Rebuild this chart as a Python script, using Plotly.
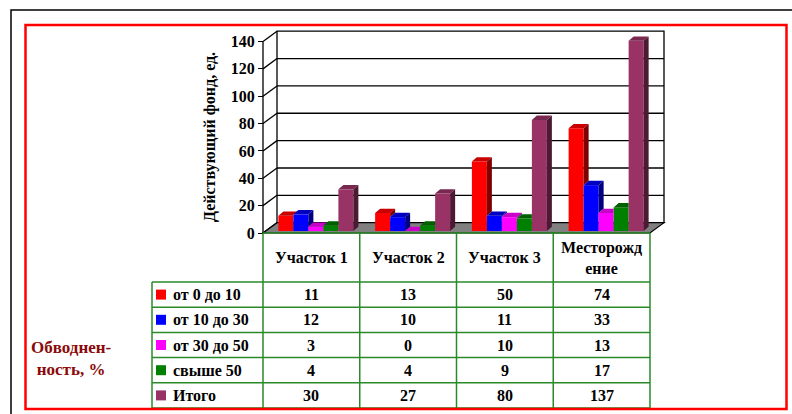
import plotly.graph_objects as go

# ---- data ----
categories = ["Участок 1", "Участок 2", "Участок 3", "Месторождение"]
column_headers = ["Участок 1", "Участок 2", "Участок 3", "Месторожд<br>ение"]
series_names = ["от 0 до 10", "от 10 до 30", "от 30 до 50", "свыше 50", "Итого"]
wells_0_10 = [11, 13, 50, 74]
wells_10_30 = [12, 10, 11, 33]
wells_30_50 = [3, 0, 10, 13]
wells_over_50 = [4, 4, 9, 17]
wells_total = [30, 27, 80, 137]
y_tick_values = [0, 20, 40, 60, 80, 100, 120, 140]

series_values = [wells_0_10, wells_10_30, wells_30_50, wells_over_50, wells_total]

front_colors = ["#FF0000", "#0000FF", "#FF00FF", "#008000", "#993366"]
top_colors = ["#C80000", "#0000C0", "#C800C8", "#006000", "#7A2850"]
side_colors = ["#800000", "#000080", "#800080", "#003800", "#4D1A33"]

FONT = "Liberation Serif"
GREEN = "#2A8A2A"
DARK_RED = "#8B0A0A"

# ---- geometry (pixels) ----
W, H = 792, 414
PL, PR, PT, PB = 255, 680, 25, 236          # plot area
X0, CW = 263.0, 96.75                      # pixel of x=-0.5, pixels per category
Y0, SY = 233.0, 191.5 / 140                # front plane: pixel of y=0, pixels per unit
BY0, BSY = 231.0, 1.389                    # bar plane (slightly behind the front)

x_range = [-0.5 - (X0 - PL) / CW, -0.5 + (PR - X0) / CW]
y_range = [(Y0 - PB) / SY, (Y0 - PT) / SY]
y2_range = [(BY0 - PB) / BSY, (BY0 - PT) / BSY]

DX, DY = 14 / CW, 10.3 / SY                # depth of the chart box
BW = 15 / CW                               # bar width
BDX, BDY = 5 / CW, 4.3 / BSY               # depth of each bar
SHIFT = 4.5 / CW
n_series = len(series_values)
n_cat = len(categories)
group_start = -n_series * BW / 2 + SHIFT
x_lo, x_hi = -0.5, n_cat - 0.5
y_top = y_tick_values[-1]


def pxx(p):
    return (p - PL) / (PR - PL)


def pxy(p):
    return (PB - p) / (PB - PT)


fig = go.Figure()

# front faces of the bars
for k, (name, vals) in enumerate(zip(series_names, series_values)):
    fig.add_trace(go.Bar(
        x=list(range(n_cat)), y=vals, width=BW, offset=group_start + k * BW,
        yaxis="y2",
        marker=dict(color=front_colors[k], line=dict(width=0)),
        name=name, showlegend=False, hoverinfo="skip",
    ))

# top and side faces of the bars (hidden parts cut away)
for k, vals in enumerate(series_values):
    tx, ty, sx, sy = [], [], [], []
    for i in range(n_cat):
        left = i + group_start + k * BW
        right = left + BW
        v = vals[i]
        vn = series_values[k + 1][i] if k + 1 < n_series else 0
        if vn <= v:
            pts = [(left, v), (right, v), (right + BDX, v + BDY), (left + BDX, v + BDY)]
        elif vn >= v + BDY:
            pts = [(left, v), (right, v), (right, v + BDY), (left + BDX, v + BDY)]
        else:
            pts = [(left, v), (right, v), (right, vn),
                   (right + BDX * (vn - v) / BDY, vn),
                   (right + BDX, v + BDY), (left + BDX, v + BDY)]
        for a, b in pts + [pts[0]]:
            tx.append(a)
            ty.append(b)
        tx.append(None)
        ty.append(None)
        if v > vn:
            spts = [(right, vn), (right, v), (right + BDX, v + BDY), (right + BDX, vn + BDY)]
            for a, b in spts + [spts[0]]:
                sx.append(a)
                sy.append(b)
            sx.append(None)
            sy.append(None)
    fig.add_trace(go.Scatter(x=tx, y=ty, yaxis="y2", mode="lines", fill="toself",
                             fillcolor=top_colors[k], line=dict(width=0),
                             showlegend=False, hoverinfo="skip"))
    if sx:
        fig.add_trace(go.Scatter(x=sx, y=sy, yaxis="y2", mode="lines", fill="toself",
                                 fillcolor=side_colors[k], line=dict(width=0),
                                 showlegend=False, hoverinfo="skip"))

shapes = []
# back wall
shapes.append(dict(type="rect", xref="x", yref="y", layer="below",
                   x0=x_lo + DX, x1=x_hi + DX, y0=DY, y1=y_top + DY,
                   fillcolor="white", line=dict(color="black", width=1.3)))
# back wall gridlines
for t in y_tick_values[1:-1]:
    shapes.append(dict(type="line", xref="x", yref="y", layer="below",
                       x0=x_lo + DX, x1=x_hi + DX, y0=t + DY, y1=t + DY,
                       line=dict(color="black", width=1.3)))
# side wall lines
for t in y_tick_values:
    shapes.append(dict(type="line", xref="x", yref="y", layer="below",
                       x0=x_lo, x1=x_lo + DX, y0=t, y1=t + DY,
                       line=dict(color="black", width=1.3)))
shapes.append(dict(type="line", xref="x", yref="y", layer="below",
                   x0=x_lo, x1=x_lo, y0=0, y1=y_top,
                   line=dict(color="black", width=1.3)))
# floor
shapes.append(dict(type="path", xref="x", yref="y", layer="below",
                   path=f"M {x_lo},0 L {x_hi},0 L {x_hi + DX},{DY} L {x_lo + DX},{DY} Z",
                   fillcolor="#808080", line=dict(color="black", width=1.2)))

# ---- data table ----
col_px = [X0 + i * CW for i in range(n_cat + 1)]
legend_left = 152
header_top, header_bottom = 233, 282
row_px = [282 + j * 25.2 for j in range(n_series + 1)]

shapes.append(dict(type="line", xref="paper", yref="paper",
                   x0=pxx(col_px[0]), x1=pxx(col_px[-1]), y0=pxy(header_top), y1=pxy(header_top),
                   line=dict(color=GREEN, width=1.5)))
for r in row_px:
    shapes.append(dict(type="line", xref="paper", yref="paper",
                       x0=pxx(legend_left), x1=pxx(col_px[-1]), y0=pxy(r), y1=pxy(r),
                       line=dict(color=GREEN, width=1.5)))
shapes.append(dict(type="line", xref="paper", yref="paper",
                   x0=pxx(legend_left), x1=pxx(legend_left), y0=pxy(row_px[0]), y1=pxy(row_px[-1]),
                   line=dict(color=GREEN, width=1.5)))
for c in col_px:
    shapes.append(dict(type="line", xref="paper", yref="paper",
                       x0=pxx(c), x1=pxx(c), y0=pxy(header_top), y1=pxy(row_px[-1]),
                       line=dict(color=GREEN, width=1.5)))

annotations = []
for i, head in enumerate(column_headers):
    annotations.append(dict(xref="paper", yref="paper", x=pxx((col_px[i] + col_px[i + 1]) / 2),
                            y=pxy((header_top + header_bottom) / 2), text=head, showarrow=False,
                            xanchor="center", yanchor="middle",
                            font=dict(family=FONT, size=16, color="black", weight="bold")))
for j, (name, vals) in enumerate(zip(series_names, series_values)):
    yc = (row_px[j] + row_px[j + 1]) / 2
    shapes.append(dict(type="rect", xref="paper", yref="paper",
                       x0=pxx(156), x1=pxx(166), y0=pxy(yc - 5), y1=pxy(yc + 5),
                       fillcolor=front_colors[j], line=dict(width=0)))
    annotations.append(dict(xref="paper", yref="paper", x=pxx(171), y=pxy(yc), text=name,
                            showarrow=False, xanchor="left", yanchor="middle",
                            font=dict(family=FONT, size=16, color="black", weight="bold")))
    for i, v in enumerate(vals):
        annotations.append(dict(xref="paper", yref="paper", x=pxx((col_px[i] + col_px[i + 1]) / 2),
                                y=pxy(yc), text=str(v), showarrow=False,
                                xanchor="center", yanchor="middle",
                                font=dict(family=FONT, size=16, color="black", weight="bold")))

annotations.append(dict(xref="paper", yref="paper", x=pxx(71), y=pxy(358),
                        text="Обводнен-<br>ность, %", showarrow=False,
                        xanchor="center", yanchor="middle", align="center",
                        font=dict(family=FONT, size=17, color=DARK_RED, weight="bold")))
annotations.append(dict(xref="paper", yref="paper", x=pxx(210), y=pxy(137),
                        text="Действующий фонд, ед.", textangle=-90, showarrow=False,
                        xanchor="center", yanchor="middle",
                        font=dict(family=FONT, size=16, color="black", weight="bold")))

# outer frames
shapes.append(dict(type="rect", xref="paper", yref="paper",
                   x0=pxx(11), x1=pxx(W + 20), y0=pxy(10), y1=pxy(H + 20),
                   line=dict(color="black", width=1.5), fillcolor="rgba(0,0,0,0)"))
shapes.append(dict(type="rect", xref="paper", yref="paper",
                   x0=pxx(25.5), x1=pxx(786.5), y0=pxy(25), y1=pxy(409),
                   line=dict(color="#FF0000", width=2.5), fillcolor="rgba(0,0,0,0)"))

fig.update_layout(
    width=W, height=H, template="none",
    margin=dict(l=PL, r=W - PR, t=PT, b=H - PB, pad=0),
    paper_bgcolor="white", plot_bgcolor="rgba(0,0,0,0)",
    barmode="overlay", showlegend=False,
    shapes=shapes, annotations=annotations,
    xaxis=dict(range=x_range, visible=False, fixedrange=True),
    yaxis=dict(range=y_range, anchor="free", position=pxx(X0),
               tickvals=y_tick_values, ticks="outside", ticklen=5, tickwidth=1.3,
               tickcolor="black", showline=False, showgrid=False, zeroline=False,
               automargin=False, fixedrange=True,
               tickfont=dict(family=FONT, size=16, color="black", weight="bold")),
    yaxis2=dict(range=y2_range, overlaying="y", anchor="x", visible=False,
                fixedrange=True, automargin=False),
)

fig.write_html("out.html")
